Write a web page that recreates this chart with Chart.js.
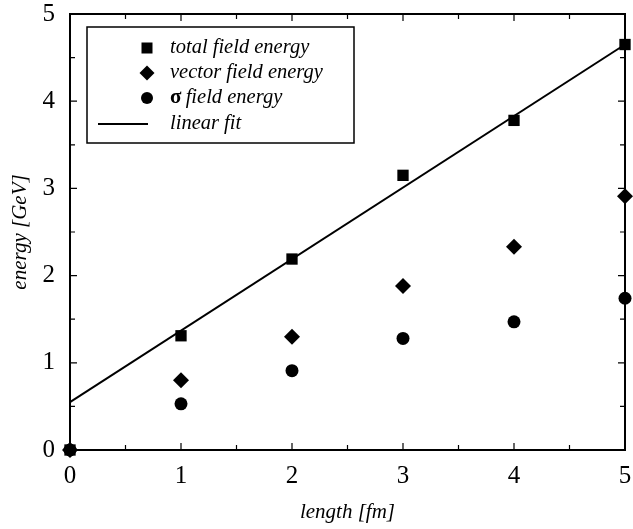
<!DOCTYPE html>
<html lang="en">
<head>
<meta charset="UTF-8">
<title>energy vs length</title>
<script src="https://cdn.jsdelivr.net/npm/chart.js"></script>
<style>
    html, body { margin: 0; padding: 0; background: #fff; }
    #wrap { width: 633px; height: 529px; }
</style>
</head>
<body>
<div id="wrap"><canvas id="chart" width="633" height="529"></canvas></div>
<script>
// длина струны, fm
const lengths = [0, 1, 2, 3, 4, 5];
// энергии поля, GeV
const totalEnergy = [0, 1.31, 2.19, 3.15, 3.78, 4.65];
const vectorEnergy = [0, 0.80, 1.30, 1.88, 2.33, 2.91];
const sigmaEnergy = [0, 0.53, 0.91, 1.28, 1.47, 1.74];
// линейная аппроксимация
const fitX = [0, 5];
const fitY = [0.55, 4.65];
const legendLabels = ['total field energy', 'vector field energy', 'field energy', 'linear fit'];

const serif = '"Liberation Serif", "DejaVu Serif", serif';

function pts(xs, ys) {
    return xs.map((x, i) => ({ x: x, y: ys[i] }));
}

// рамка, внутренние засечки и легенда
const framePlugin = {
    id: 'frame',
    afterDraw(chart) {
        const ctx = chart.ctx;
        const a = chart.chartArea;
        const xs = chart.scales.x, ys = chart.scales.y;
        ctx.save();
        ctx.strokeStyle = '#000';
        ctx.lineWidth = 2;
        ctx.strokeRect(a.left, a.top, a.right - a.left, a.bottom - a.top);
        ctx.lineWidth = 1.2;
        ctx.beginPath();
        for (let v = 0.5; v < 5; v += 0.5) {
            const len = (v % 1 === 0) ? 7 : 5;
            const px = xs.getPixelForValue(v);
            ctx.moveTo(px, a.bottom); ctx.lineTo(px, a.bottom - len);
            ctx.moveTo(px, a.top); ctx.lineTo(px, a.top + len);
            const py = ys.getPixelForValue(v);
            ctx.moveTo(a.left, py); ctx.lineTo(a.left + len, py);
            ctx.moveTo(a.right, py); ctx.lineTo(a.right - len, py);
        }
        ctx.stroke();

        // легенда
        ctx.fillStyle = '#fff';
        ctx.fillRect(87, 27, 267, 116);
        ctx.lineWidth = 1.5;
        ctx.strokeRect(87, 27, 267, 116);
        ctx.fillStyle = '#000';
        const mx = 147, tx = 170;
        const rows = [48, 73, 98, 124];
        // квадрат
        ctx.fillRect(mx - 5.5, rows[0] - 5.5, 11, 11);
        // ромб
        ctx.beginPath();
        ctx.moveTo(mx, rows[1] - 7.5); ctx.lineTo(mx + 7.5, rows[1]);
        ctx.lineTo(mx, rows[1] + 7.5); ctx.lineTo(mx - 7.5, rows[1]);
        ctx.closePath(); ctx.fill();
        // круг
        ctx.beginPath();
        ctx.arc(mx, rows[2], 6, 0, Math.PI * 2);
        ctx.fill();
        // линия
        ctx.lineWidth = 2;
        ctx.beginPath();
        ctx.moveTo(98, rows[3]); ctx.lineTo(148, rows[3]);
        ctx.stroke();

        ctx.textBaseline = 'middle';
        ctx.textAlign = 'left';
        ctx.font = 'italic 20.5px ' + serif;
        ctx.fillText(legendLabels[0], tx, rows[0]);
        ctx.fillText(legendLabels[1], tx, rows[1]);
        ctx.font = 'bold 21px ' + serif;
        ctx.fillText('σ', tx, rows[2]);
        const sw = ctx.measureText('σ ').width;
        ctx.font = 'italic 20.5px ' + serif;
        ctx.fillText(legendLabels[2], tx + sw - 1, rows[2]);
        ctx.fillText(legendLabels[3], tx, rows[3]);
        ctx.restore();
    }
};

new Chart(document.getElementById('chart'), {
    type: 'scatter',
    data: {
        datasets: [
            {
                label: legendLabels[3],
                data: pts(fitX, fitY),
                showLine: true,
                borderColor: '#000',
                borderWidth: 2,
                pointRadius: 0,
                order: 4
            },
            {
                label: legendLabels[0],
                data: pts(lengths, totalEnergy),
                pointStyle: 'rect',
                pointRadius: 8,
                backgroundColor: '#000',
                borderColor: '#000',
                borderWidth: 0,
                order: 3
            },
            {
                label: legendLabels[1],
                data: pts(lengths, vectorEnergy),
                pointStyle: 'rectRot',
                pointRadius: 8,
                backgroundColor: '#000',
                borderColor: '#000',
                borderWidth: 0,
                order: 2
            },
            {
                label: 'σ ' + legendLabels[2],
                data: pts(lengths, sigmaEnergy),
                pointStyle: 'circle',
                pointRadius: 6.5,
                backgroundColor: '#000',
                borderColor: '#000',
                borderWidth: 0,
                order: 1
            }
        ]
    },
    options: {
        responsive: false,
        animation: false,
        clip: false,
        layout: { padding: { top: 14, right: 6, left: 0, bottom: 0 } },
        plugins: {
            legend: { display: false },
            tooltip: { enabled: false }
        },
        scales: {
            x: {
                type: 'linear',
                min: 0,
                max: 5,
                afterFit(scale) {
                    scale.height = 79;
                    scale.paddingLeft = 0;
                    scale.paddingRight = 0;
                },
                grid: { display: false, drawTicks: false },
                border: { display: false },
                ticks: {
                    stepSize: 1,
                    padding: 11,
                    color: '#000',
                    maxRotation: 0,
                    font: { family: serif, size: 25 }
                },
                title: {
                    display: true,
                    text: 'length [fm]',
                    color: '#000',
                    padding: { top: 0, bottom: 4 },
                    font: { family: serif, size: 21, style: 'italic' }
                }
            },
            y: {
                type: 'linear',
                min: 0,
                max: 5,
                afterFit(scale) {
                    scale.width = 70;
                    scale.paddingTop = 0;
                    scale.paddingBottom = 0;
                },
                grid: { display: false, drawTicks: false },
                border: { display: false },
                ticks: {
                    stepSize: 1,
                    padding: 15,
                    color: '#000',
                    font: { family: serif, size: 25 }
                },
                title: {
                    display: true,
                    text: 'energy [GeV]',
                    color: '#000',
                    padding: { top: 8, bottom: 0 },
                    font: { family: serif, size: 21, style: 'italic' }
                }
            }
        }
    },
    plugins: [framePlugin]
});
</script>
</body>
</html>
